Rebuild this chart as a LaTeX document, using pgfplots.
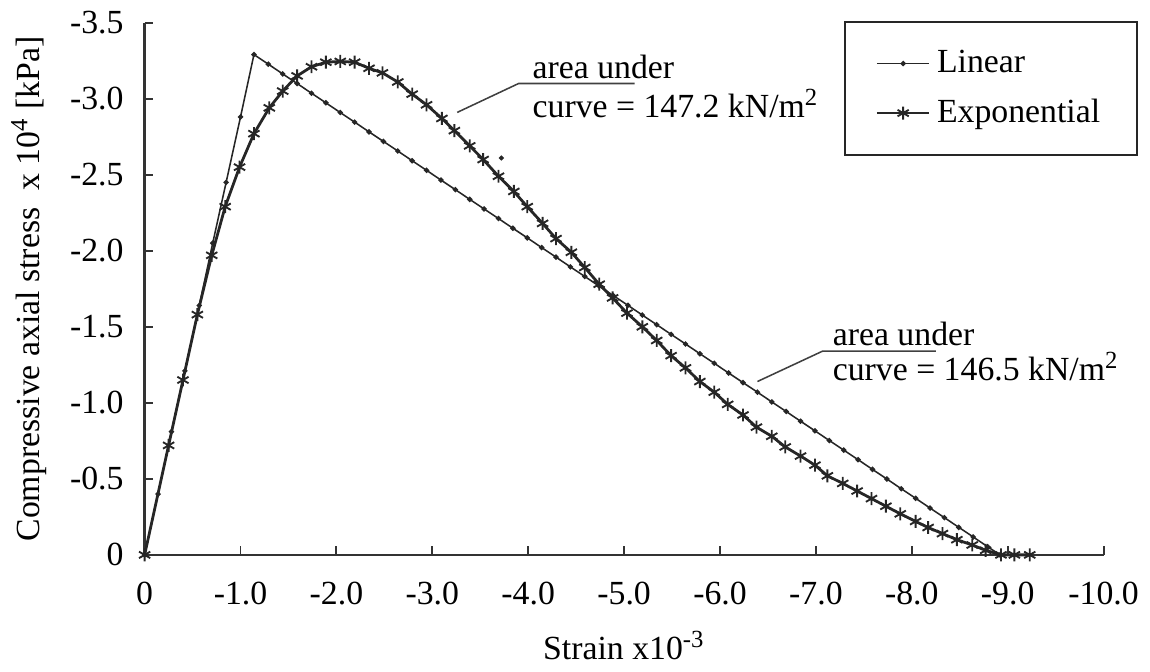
\documentclass[border=0pt,11pt]{standalone}
\usepackage{fontspec}
\setmainfont{Liberation Serif}
\usepackage{pgfplots}
\pgfplotsset{compat=1.18}

\begin{document}
\begin{tikzpicture}
\begin{axis}[
    scale only axis,
    width=311pt, height=172.6pt,
    xmin=0, xmax=10, ymin=0, ymax=3.5,
    axis x line=bottom, axis y line=left,
    axis line style={-, line width=0.8pt, black!80},
    tick style={black!80, line width=0.6pt},
    tick align=inside,
    major tick length=2.8pt,
    xtick={0,1,...,10},
    xticklabels={0,-1.0,-2.0,-3.0,-4.0,-5.0,-6.0,-7.0,-8.0,-9.0,-10.0},
    ytick={0,0.5,...,3.5},
    yticklabels={0,-0.5,-1.0,-1.5,-2.0,-2.5,-3.0,-3.5},
    xticklabel style={yshift=-5pt},
    yticklabel style={xshift=-3pt},
    xlabel={Strain x10\textsuperscript{-3}},
    ylabel={Compressive axial stress\ \ x 10\textsuperscript{4} [kPa]},
    xlabel style={yshift=-1pt},
    ylabel style={yshift=0pt},
    clip=false,
    legend cell align=left,
    legend style={at={(axis cs:10.36,3.51)}, anchor=north east,
        draw=black!85, line width=0.6pt,
        inner xsep=10pt, inner ysep=7pt,
        row sep=3pt, font=\normalsize},
]

% Linear
\addplot[black!85, line width=0.5pt, mark=*, mark size=0.6pt] coordinates {
(0,0) (0.14,0.40) (0.28,0.81) (0.42,1.21) (0.57,1.64) (0.71,2.05) (0.85,2.45)
(1.00,2.88) (1.14,3.29)
(1.29,3.227) (1.44,3.163) (1.59,3.100) (1.74,3.036) (1.89,2.973) (2.04,2.909)
(2.19,2.846) (2.34,2.782) (2.49,2.719) (2.64,2.656) (2.79,2.592) (2.94,2.529)
(3.09,2.465) (3.24,2.402) (3.39,2.338) (3.54,2.275) (3.69,2.212) (3.84,2.148)
(3.99,2.085) (4.14,2.021) (4.29,1.958) (4.44,1.894) (4.59,1.831) (4.74,1.767)
(4.89,1.704) (5.04,1.641) (5.19,1.577) (5.34,1.514) (5.49,1.450) (5.64,1.387)
(5.79,1.323) (5.94,1.260) (6.09,1.196) (6.24,1.133) (6.39,1.070) (6.54,1.006)
(6.69,0.943) (6.84,0.879) (6.99,0.816) (7.14,0.752) (7.29,0.689) (7.44,0.626)
(7.59,0.562) (7.74,0.499) (7.89,0.435) (8.04,0.372) (8.19,0.308) (8.34,0.245)
(8.49,0.181) (8.64,0.118) (8.79,0.054) (8.92,0)
};
\addlegendentry{Linear}

% Exponential
\addplot[black!85, line width=0.9pt, mark=asterisk, mark size=2.1pt,
    mark options={line width=0.6pt}] coordinates {
(0,0) (0.25,0.72) (0.40,1.15) (0.55,1.58) (0.70,1.97) (0.84,2.29) (0.99,2.55)
(1.14,2.77) (1.30,2.94) (1.44,3.05) (1.59,3.15) (1.74,3.21) (1.89,3.24)
(2.04,3.245) (2.19,3.24) (2.34,3.20) (2.48,3.17) (2.64,3.11) (2.79,3.03)
(2.94,2.96) (3.10,2.87) (3.23,2.79) (3.39,2.69) (3.53,2.60) (3.69,2.49)
(3.85,2.39) (3.99,2.29) (4.15,2.18) (4.29,2.08) (4.45,1.99) (4.59,1.89)
(4.74,1.78) (4.88,1.69) (5.03,1.59) (5.19,1.50) (5.34,1.41) (5.49,1.31)
(5.64,1.23) (5.79,1.14) (5.94,1.07) (6.08,0.99) (6.24,0.92) (6.38,0.84)
(6.54,0.78) (6.68,0.71) (6.84,0.65) (6.99,0.59) (7.12,0.52) (7.28,0.47)
(7.43,0.42) (7.58,0.37) (7.73,0.32) (7.88,0.27) (8.04,0.22) (8.17,0.18)
(8.32,0.14) (8.47,0.10) (8.63,0.065) (8.77,0.03) (8.93,0) (9.07,0) (9.23,0)
};
\addlegendentry{Exponential}

% stray dot in the original figure
\addplot[only marks, black!85, mark=*, mark size=0.6pt, forget plot] coordinates {(3.72,2.61)};

% annotations
\draw[black!75, line width=0.5pt] (axis cs:3.26,2.91) -- (axis cs:3.90,3.10) -- (axis cs:5.11,3.10);
\node[anchor=west, inner sep=0pt] at (axis cs:4.04,3.21) {area under};
\node[anchor=west, inner sep=0pt] at (axis cs:4.04,2.97) {curve = 147.2 kN/m\textsuperscript{2}};

\draw[black!75, line width=0.5pt] (axis cs:6.39,1.14) -- (axis cs:7.07,1.34) -- (axis cs:8.25,1.34);
\node[anchor=west, inner sep=0pt] at (axis cs:7.17,1.45) {area under};
\node[anchor=west, inner sep=0pt] at (axis cs:7.17,1.24) {curve = 146.5 kN/m\textsuperscript{2}};

\end{axis}
\end{tikzpicture}
\end{document}
